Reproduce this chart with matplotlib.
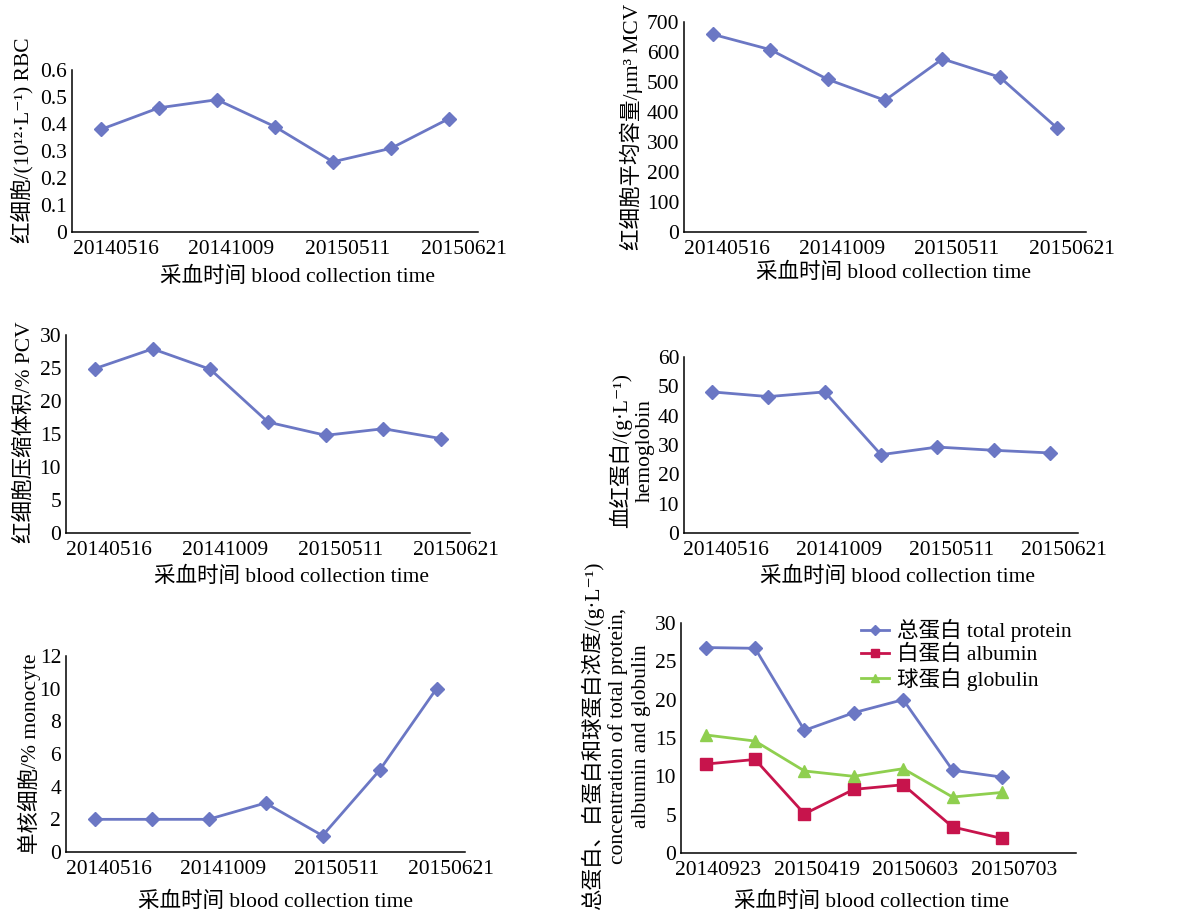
import numpy as np
import matplotlib
matplotlib.use("Agg")
import matplotlib.pyplot as plt
from matplotlib.ticker import FuncFormatter

plt.rcParams['font.family'] = ['Liberation Serif', 'Noto Sans CJK SC', 'DejaVu Sans']
plt.rcParams['font.size'] = 15.5

# blood collection dates (only every other one is labelled on the axis)
dates_blood = ["20140516", "20141009", "20150511", "20150621"]
dates_protein = ["20140923", "20150419", "20150603", "20150703"]

rbc = [0.38, 0.46, 0.49, 0.39, 0.26, 0.31, 0.42]
mcv = [659, 608, 509, 439, 577, 516, 346]
pcv = [24.9, 27.9, 24.8, 16.8, 14.8, 15.8, 14.3]
hemoglobin = [48.1, 46.5, 48.1, 26.7, 29.3, 28.2, 27.3]
monocyte = [2, 2, 2, 3, 1, 5, 10]

total_protein = [26.8, 26.7, 16.0, 18.3, 20.0, 10.8, 9.9]
albumin = [11.6, 12.2, 5.1, 8.3, 8.9, 3.4, 1.9]
globulin = [15.4, 14.6, 10.7, 10.0, 11.0, 7.3, 7.9]

BLUE = "#6B77C4"
RED = "#C7144C"
GREEN = "#8FCF4F"

W, H = 1179, 915
fig = plt.figure(figsize=(W / 100, H / 100), dpi=100)


def box(left, right, top, bottom):
    return [left / W, 1 - bottom / H, (right - left) / W, (bottom - top) / H]


def fx(x):
    return x / W


def fy(y):
    return 1 - y / H


def style_axes(ax, ymax, ystep, n_cat, labels):
    for s in ["top", "right"]:
        ax.spines[s].set_visible(False)
    for s in ["left", "bottom"]:
        ax.spines[s].set_linewidth(1.1)
    ax.set_xlim(-0.5, n_cat - 0.5)
    ax.set_ylim(0, ymax)
    ax.set_yticks(np.arange(0, ymax + ystep / 2, ystep))
    ax.yaxis.set_major_formatter(FuncFormatter(lambda v, p: f"{round(v, 6):g}"))
    ax.set_xticks(np.arange(0, 2 * len(labels), 2) + 0.25)
    ax.set_xticklabels(labels)
    ax.tick_params(axis="x", length=0, pad=5.5)
    ax.tick_params(axis="y", length=0, pad=3.5)


def xlabel(x, y):
    fig.text(fx(x), fy(y), "采血时间 blood collection time", ha="center", va="center")


def ylabel(x, y, text):
    fig.text(fx(x), fy(y), text, rotation=90, ha="center", va="center",
             multialignment="center", linespacing=1.25)


line_kw = dict(lw=2.0, marker="D", ms=7.5)

# RBC
ax1 = fig.add_axes(box(72, 478, 70, 232))
ax1.plot(range(len(rbc)), rbc, color=BLUE, **line_kw)
style_axes(ax1, 0.6, 0.1, 7, dates_blood)
ylabel(22, 140, "红细胞/(10¹²·L⁻¹) RBC")
xlabel(298, 277)

# MCV
ax2 = fig.add_axes(box(684, 1086, 22, 232))
ax2.plot(range(len(mcv)), mcv, color=BLUE, **line_kw)
style_axes(ax2, 700, 100, 7, dates_blood)
ylabel(631, 127, "红细胞平均容量/µm³ MCV")
xlabel(893, 273)

# PCV
ax3 = fig.add_axes(box(66, 470, 335, 533))
ax3.plot(range(len(pcv)), pcv, color=BLUE, **line_kw)
style_axes(ax3, 30, 5, 7, dates_blood)
ylabel(25, 432, "红细胞压缩体积/% PCV")
xlabel(292, 577)

# hemoglobin
ax4 = fig.add_axes(box(684, 1078, 357, 533))
ax4.plot(range(len(hemoglobin)), hemoglobin, color=BLUE, **line_kw)
style_axes(ax4, 60, 10, 7, dates_blood)
ylabel(632, 451, "血红蛋白/(g·L⁻¹)\nhemoglobin")
xlabel(898, 577)

# monocyte
ax5 = fig.add_axes(box(66, 465, 656, 852))
ax5.plot(range(len(monocyte)), monocyte, color=BLUE, **line_kw)
style_axes(ax5, 12, 2, 7, dates_blood)
ylabel(29, 754, "单核细胞/% monocyte")
xlabel(275, 902)

# proteins
ax6 = fig.add_axes(box(681, 1076, 623, 853))
x6 = range(len(total_protein))
ax6.plot(x6, total_protein, color=BLUE, lw=2.0, marker="D", ms=7.5, label="总蛋白 total protein")
ax6.plot(x6, albumin, color=RED, lw=2.0, marker="s", ms=8.5, label="白蛋白 albumin")
ax6.plot(x6, globulin, color=GREEN, lw=2.0, marker="^", ms=9, label="球蛋白 globulin")
style_axes(ax6, 30, 5, 8, dates_protein)
ylabel(616, 736, "总蛋白、白蛋白和球蛋白浓度/(g·L⁻¹)\nconcentration of total protein,\nalbumin and globulin")
xlabel(871, 902)
leg = ax6.legend(loc="upper left", bbox_to_anchor=(fx(861), fy(619)), bbox_transform=fig.transFigure,
                 frameon=False, borderpad=0, borderaxespad=0, handlelength=1.3,
                 handletextpad=0.35, labelspacing=0.12, markerscale=0.7)

fig.savefig("out.png", dpi=100)
